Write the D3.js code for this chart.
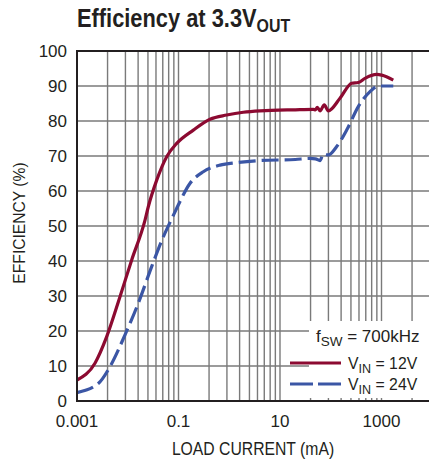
<!DOCTYPE html>
<html><head><meta charset="utf-8">
<script src="https://cdn.jsdelivr.net/npm/d3@7"></script>
<style>
body{margin:0;background:#fff;}
text{font-family:"Liberation Sans",Arial,sans-serif;fill:#231f20;}
</style></head><body>
<svg id="c" width="429" height="462"></svg>
<script>
// data: load current (mA) and efficiency (%)
const vin12_x = [0.001,0.00226,0.00385,0.00703,0.01196,0.0219,0.0254,0.0372,0.0585,0.0922,0.196,0.418,0.891,1.89,4.04,20,45.3,50,54.3,61.4,74.6,89.5,152,259,349,473,804,1009,1706];
const vin12_y = [6,10.8,18.4,29.8,40.3,51.7,55.5,63.1,69.8,73.6,77.4,80.5,81.7,82.5,82.9,83.2,83.3,83.2,83.9,82.9,84.6,82.9,86.5,90.8,91.0,92.2,93.3,93.1,91.7];
const vin24_x = [0.001,0.00263,0.00447,0.00883,0.0161,0.0296,0.0502,0.079,0.099,0.169,0.308,0.658,1.40,4.04,20,39,50,61.4,71.3,89.5,131,206,349,593,865,1706];
const vin24_y = [2.4,5.0,9.8,18.9,27.9,38.4,46.9,53.0,56.0,62.2,65.5,67.4,68.1,68.7,69.0,69.3,69.2,68.7,70.6,70.3,72.7,77.4,84.1,88.4,90.0,90.0];
const xTickValues = [0.001,0.1,10,1000];
const xTickLabels = ["0.001","0.1","10","1000"];
const yTickValues = [0,10,20,30,40,50,60,70,80,90,100];
const gridMultipliers = [1,2,3,4,5,6,7,8,9];
const seriesNames = ["12V","24V"];

const svg = d3.select("#c");
const L=77, R=433, T=51, B=401;
const x = d3.scaleLog().domain([0.001, 10000]).range([L, L + 7*50.75]);
const y = d3.scaleLinear().domain([0,100]).range([B,T]);

// grid: each gridded "decade" spans two real decades (value = base * k^2)
const gridVals = [];
xTickValues.forEach(b=>gridMultipliers.forEach(k=>{const v=b*k*k; if(x(v)<R) gridVals.push(v);}));
const g = svg.append("g");
g.selectAll("line.vg").data(gridVals).join("line")
  .attr("x1",d=>x(d)).attr("x2",d=>x(d)).attr("y1",T).attr("y2",B)
  .attr("stroke","#7a7a7a").attr("stroke-width",1.4);
g.selectAll("line.hg").data(yTickValues).join("line")
  .attr("x1",L).attr("x2",R).attr("y1",d=>y(d)).attr("y2",d=>y(d))
  .attr("stroke","#7a7a7a").attr("stroke-width",1.4);

// curves
const line = d3.line().x(d=>x(d[0])).y(d=>y(d[1])).curve(d3.curveMonotoneX);
svg.append("path").datum(d3.zip(vin24_x,vin24_y)).attr("d",line)
  .attr("fill","none").attr("stroke","#3b56a5").attr("stroke-width",3.2).attr("stroke-dasharray","17,6");
svg.append("path").datum(d3.zip(vin12_x,vin12_y)).attr("d",line)
  .attr("fill","none").attr("stroke","#8c0a31").attr("stroke-width",3.2);

// legend box
svg.append("rect").attr("x",309).attr("y",321).attr("width",R-309).attr("height",77).attr("fill","#fff");

// frame
svg.append("line").attr("x1",L).attr("x2",R).attr("y1",T).attr("y2",T).attr("stroke","#231f20").attr("stroke-width",2);
svg.append("line").attr("x1",L).attr("x2",R).attr("y1",B).attr("y2",B).attr("stroke","#231f20").attr("stroke-width",2);
svg.append("line").attr("x1",L).attr("x2",L).attr("y1",T-1).attr("y2",B+1).attr("stroke","#231f20").attr("stroke-width",2);

// tick labels
svg.selectAll("text.yl").data(yTickValues).join("text")
  .attr("x",67).attr("y",d=>y(d)+6).attr("text-anchor","end").attr("font-size",17).text(d=>d);
svg.selectAll("text.xl").data(xTickValues).join("text")
  .attr("x",d=>x(d)).attr("y",427).attr("text-anchor","middle").attr("font-size",17)
  .text((d,i)=>xTickLabels[i]);

// axis titles
svg.append("text").attr("transform","translate(253,455) scale(0.9,1)").attr("text-anchor","middle").attr("font-size",17.5).text("LOAD CURRENT (mA)");
svg.append("text").attr("transform","translate(25,223) rotate(-90) scale(0.92,1)").attr("text-anchor","middle").attr("font-size",17).text("EFFICIENCY (%)");

// title
const t = svg.append("text").attr("transform","translate(77,27) scale(0.84,1)").attr("font-size",26).attr("font-weight","bold");
t.append("tspan").text("Efficiency at 3.3V");
t.append("tspan").attr("dy",5).attr("font-size",19).text("OUT");

// legend content
const lt = svg.append("text").attr("x",316).attr("y",342).attr("font-size",17);
lt.append("tspan").text("f");
lt.append("tspan").attr("dy",4).attr("font-size",13.5).text("SW");
lt.append("tspan").attr("dy",-4).text(" = 700kHz");
const legY=[363,384], legCol=["#8c0a31","#3b56a5"], legDash=[null,"23,5"];
seriesNames.forEach((n,i)=>{
  svg.append("line").attr("x1",290).attr("x2",341).attr("y1",legY[i]).attr("y2",legY[i])
    .attr("stroke",legCol[i]).attr("stroke-width",3.2).attr("stroke-dasharray",legDash[i]);
  const tx = svg.append("text").attr("transform",`translate(348,${legY[i]+6}) scale(0.93,1)`).attr("font-size",17);
  tx.append("tspan").text("V");
  tx.append("tspan").attr("dy",4).attr("font-size",13.5).text("IN");
  tx.append("tspan").attr("dy",-4).text(" = "+n);
});
</script></body></html>
